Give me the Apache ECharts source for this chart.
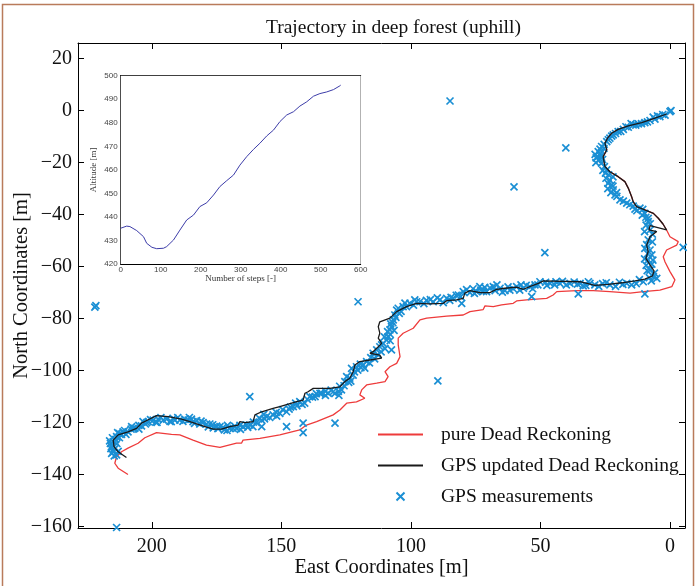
<!DOCTYPE html>
<html><head><meta charset="utf-8">
<script src="https://cdn.jsdelivr.net/npm/echarts@6/dist/echarts.min.js"></script>
<style>html,body{margin:0;padding:0;background:#fff}#c{width:696px;height:586px}</style>
</head><body><div id="c"></div>
<script>
// ---- data (East [m], North [m]) ----
const gpsUpdatedDR = [
[1.3,-1.3],[5.8,-2.9],[10.9,-4.6],[16.1,-5.9],[20.0,-7.2],[22.5,-8.7],[24.1,-10.6],[25.1,-12.5],[24.4,-15.1],[25.8,-17.7],
[25.1,-21.5],[23.2,-23.5],[20.0,-25.4],[17.4,-27.3],[16.1,-29.8],[14.8,-33.1],[14.2,-35.0],[12.9,-36.9],[9.7,-38.2],[6.4,-39.5],
[4.5,-41.4],[2.7,-43.6],[1.3,-45.9],[7.7,-44.2],[8.1,-45.9],[5.1,-46.5],[7.7,-48.5],[9.0,-51.7],[8.4,-54.2],[9.3,-56.8],
[7.7,-59.3],[6.1,-61.7],[6.8,-63.6],[9.7,-64.8],[13.5,-65.5],[18.6,-66.2],[23.8,-66.8],[29.0,-67.2],[34.7,-65.8],[48.9,-65.5],
[50.8,-66.4],[54.1,-67.7],[56.6,-68.7],[59.2,-67.9],[63.7,-68.3],[66.9,-68.7],[69.5,-70.0],[73.4,-70.0],[77.2,-69.2],[79.2,-70.2],
[79.8,-72.2],[82.4,-72.8],[86.2,-73.1],[87.5,-74.1],[92.7,-74.3],[97.8,-74.1],[101.7,-75.4],[105.5,-77.3],[108.1,-79.8],[112.0,-81.2],
[112.6,-83.1],[112.0,-85.6],[112.6,-87.5],[111.3,-89.5],[112.6,-90.8],[114.6,-92.7],[115.8,-93.3],[112.0,-94.0],[111.3,-95.2],[115.8,-95.9],
[119.7,-96.5],[121.6,-97.8],[122.3,-100.4],[123.6,-102.9],[125.5,-104.2],[127.4,-106.2],[131.3,-106.8],[137.7,-106.8],[139.7,-108.1],[140.9,-108.7],
[141.6,-111.3],[144.1,-111.9],[150.6,-113.8],[153.2,-114.5],[157.6,-115.8],[160.2,-117.0],[160.9,-119.6],[164.1,-120.0],[166.0,-119.6],[166.7,-120.9],
[169.9,-121.5],[173.1,-122.5],[176.3,-122.5],[179.5,-121.5],[182.7,-120.5],[185.3,-119.6],[188.5,-118.6],[193.7,-117.7],[198.2,-117.3],[200.8,-118.6],
[204.0,-120.2],[205.9,-122.2],[209.2,-123.5],[213.0,-124.7],[214.9,-126.7],[214.6,-129.2],[213.0,-131.2],[209.8,-133.4]
];
const pureDR = [
[1.3,-1.3],[5.8,-2.9],[10.9,-4.6],[16.1,-5.9],[20.0,-7.2],[22.5,-8.7],[24.1,-10.6],[25.1,-12.5],[24.4,-15.1],[25.8,-17.7],
[25.1,-21.5],[23.2,-23.5],[20.0,-25.4],[17.4,-27.3],[16.1,-29.8],[14.8,-33.1],[14.2,-35.0],[12.9,-36.9],[9.7,-38.2],[6.4,-39.5],
[4.5,-41.4],[2.7,-43.6],[1.3,-45.9],
[0.0,-48.5],[-3.2,-50.4],[-2.6,-51.7],[1.3,-53.6],[2.6,-56.2],[1.9,-58.2],[0.0,-61.9],[-1.9,-65.1],[-0.7,-67.7],[3.9,-69.0],
[10.3,-69.6],[15.4,-70.2],[23.2,-69.6],[29.6,-69.2],[36.0,-69.2],[43.7,-69.6],[45.1,-70.9],[47.6,-72.2],[51.5,-72.5],[55.3,-72.8],
[59.2,-73.2],[60.5,-74.1],[65.0,-74.7],[68.2,-75.4],[71.4,-75.1],[72.1,-76.5],[77.2,-77.3],[79.8,-78.6],[86.2,-79.0],[93.9,-79.8],
[96.5,-80.5],[99.1,-83.7],[103.0,-85.6],[104.9,-87.5],[104.9,-90.1],[104.2,-94.6],[105.5,-97.2],[108.1,-98.5],[110.0,-100.4],[108.8,-102.3],
[110.0,-104.2],[113.2,-104.8],[117.1,-105.5],[119.0,-107.4],[119.7,-109.3],[117.8,-110.6],[121.0,-112.0],[124.8,-112.5],[127.4,-115.1],[130.0,-117.0],
[136.4,-119.6],[140.3,-120.9],[142.9,-122.8],[150.6,-124.7],[158.3,-126.0],[164.8,-126.7],[165.4,-127.9],[167.3,-127.9],[173.7,-129.5],[178.9,-128.6],
[184.1,-126.7],[189.2,-124.7],[192.4,-124.5],[198.2,-123.8],[202.7,-125.8],[205.3,-127.9],[209.2,-129.8],[211.7,-131.2],[213.6,-133.1],[214.3,-135.6],
[213.0,-137.5],[209.2,-139.9]
];
const gpsMeasurements = [
[-0.4,0.0],[0.0,-0.4],[1.9,-1.7],[3.9,-2.3],[5.8,-3.3],[7.7,-3.8],[9.7,-4.6],[12.2,-5.1],[14.2,-5.5],[16.1,-6.4],
[18.0,-7.2],[20.0,-8.1],[21.9,-9.3],[23.2,-10.6],[24.4,-11.9],[26.4,-13.8],[27.7,-15.8],[27.9,-17.7],[27.4,-19.0],[26.4,-20.2],
[24.4,-22.8],[23.7,-24.7],[23.2,-26.7],[22.5,-28.6],[21.9,-30.5],[21.2,-32.4],[19.3,-34.3],[16.7,-35.6],[14.2,-36.7],[11.6,-37.5],
[9.7,-39.5],[8.4,-41.4],[8.4,-42.7],[7.7,-45.9],[8.4,-49.7],[7.7,-53.6],[8.4,-57.4],[7.7,-61.3],[6.4,-63.8],[10.3,-65.8],
[16.7,-66.4],[23.2,-67.0],[29.0,-67.0],[35.7,-66.7],[30.9,-66.4],[34.7,-66.4],[38.6,-66.4],[42.5,-66.4],[46.3,-66.4],[50.2,-65.8],
[52.1,-67.0],[54.1,-67.7],[56.6,-68.3],[59.2,-67.7],[61.8,-69.0],[63.7,-69.2],[65.6,-68.3],[68.2,-67.7],[70.8,-69.6],[73.4,-67.7],
[74.6,-69.6],[77.2,-70.0],[79.8,-69.6],[81.7,-70.9],[83.7,-72.2],[86.2,-72.2],[88.8,-72.8],[91.4,-73.5],[96.5,-73.5],[97.8,-73.5],
[100.4,-74.1],[101.7,-75.4],[103.0,-75.4],[104.9,-76.0],[105.5,-76.7],[106.2,-78.6],[106.8,-80.5],[107.5,-83.1],[108.1,-84.3],[108.8,-86.9],
[109.4,-88.2],[110.7,-89.5],[111.3,-90.1],[112.0,-90.8],[113.2,-92.0],[114.6,-93.3],[117.1,-96.5],[118.4,-97.8],[121.0,-98.5],[122.9,-99.1],
[122.3,-101.7],[123.6,-102.9],[124.8,-102.3],[125.5,-104.2],[126.8,-107.4],[129.3,-108.7],[130.0,-108.1],[131.9,-108.7],[134.5,-108.7],[135.1,-108.7],
[139.0,-110.0],[142.9,-111.9],[145.4,-113.8],[148.0,-115.8],[150.6,-116.4],[153.2,-117.0],[155.7,-117.7],[157.6,-119.0],[159.6,-120.0],[162.2,-120.9],
[163.4,-120.9],[164.8,-121.5],[167.3,-122.2],[168.6,-122.2],[169.9,-122.2],[172.5,-121.8],[173.7,-121.5],[175.0,-121.3],[177.6,-120.5],[178.9,-120.5],
[180.2,-120.0],[182.7,-119.2],[184.1,-119.6],[184.7,-118.6],[187.3,-118.6],[189.2,-119.0],[191.1,-119.0],[191.8,-118.3],[194.3,-118.6],[195.6,-119.0],
[197.6,-118.6],[199.5,-119.0],[201.4,-119.6],[203.4,-119.6],[204.0,-121.2],[206.6,-122.2],[207.2,-122.2],[209.2,-123.5],[211.1,-123.5],[211.7,-124.5],
[213.6,-125.4],[214.9,-127.3],[215.6,-129.2],[214.9,-130.5],[214.9,-131.2],[213.6,-132.4],
[2.8,-1.5],[6.5,-2.5],[11.0,-5.0],[17.0,-6.2],[19.0,-8.0],[22.5,-9.8],
[25.5,-14.5],[26.8,-16.5],[28.5,-18.2],[26.0,-18.8],[25.3,-21.5],[24.7,-26.0],[22.0,-25.5],[22.8,-31.5],[20.5,-33.0],[12.8,-38.5],
[10.5,-38.0],[9.2,-44.0],[6.8,-47.5],[9.0,-51.5],[7.0,-55.5],[9.2,-59.5],[7.0,-59.0],[8.0,-64.2],[13.0,-66.5],[19.5,-66.0],
[26.0,-66.5],[32.5,-67.2],[44.5,-67.0],[48.0,-66.0],[58.0,-69.0],[66.8,-67.0],[72.0,-69.5],[76.0,-68.5],[85.0,-73.0],[94.0,-73.0],
[99.0,-74.8],[104.5,-78.0],[107.0,-81.5],[108.0,-86.0],[110.0,-91.5],[115.5,-95.0],[119.5,-97.5],[120.5,-99.8],[124.0,-104.5],[128.0,-108.0],
[133.0,-109.5],[137.0,-110.0],[141.0,-112.5],[144.0,-113.5],[146.5,-114.0],[151.8,-117.5],[156.5,-118.5],[161.0,-121.5],[166.0,-121.0],[171.0,-123.0],
[176.3,-122.0],[181.5,-120.5],[186.0,-119.0],[193.0,-119.5],[198.5,-119.8],[202.5,-120.5],[205.0,-121.0],[208.0,-122.5],[210.0,-124.5],[212.5,-124.2],
[214.0,-126.5],[213.5,-128.0],[216.0,-128.0],[215.5,-131.8],[213.0,-131.0],
[4.8,-2.0],[8.7,-4.3],[13.2,-5.6],[15.0,-5.0],[21.0,-8.8],[23.8,-11.2],
[25.4,-13.0],[27.0,-14.8],[28.9,-16.8],[26.8,-17.5],[28.6,-20.0],[25.9,-23.0],[24.9,-24.0],[23.9,-28.0],[24.0,-30.0],[22.0,-29.0],
[20.6,-31.5],[18.0,-34.8],[15.5,-36.2],[13.5,-37.9],[10.7,-40.2],[9.3,-41.0],[7.6,-43.5],
[9.8,-46.5],[6.8,-50.5],[9.7,-53.0],[8.6,-55.0],[6.6,-57.5],[9.8,-57.0],[8.8,-61.5],[6.0,-62.5],[7.2,-65.5],
[11.8,-65.0],[14.8,-67.0],[18.2,-66.8],[21.0,-67.6],[24.6,-66.2],[27.5,-67.6],[31.5,-65.8],[33.5,-67.4],[37.0,-65.9],[40.0,-67.0],
[41.5,-65.7],[44.0,-65.8],[47.5,-67.2],
[51.0,-67.0],[53.0,-68.5],[55.5,-67.2],[57.5,-67.0],[60.5,-68.5],[62.5,-67.8],[64.7,-69.8],[67.5,-69.2],[69.5,-68.2],[71.5,-68.0],
[73.0,-69.0],[75.5,-70.3],[78.5,-68.8],[80.8,-71.5],[82.5,-71.0],[84.5,-71.8],[87.5,-73.8],[89.8,-72.0],[92.5,-72.7],[95.0,-74.2],
[98.5,-72.8],[102.3,-74.0],[103.8,-77.2],[105.8,-79.5],[107.8,-82.0],[106.5,-84.5],[109.0,-85.0],[108.0,-88.5],[110.2,-87.0],[111.5,-92.8],
[112.8,-93.8],[114.0,-95.5],[116.0,-97.0],[117.8,-99.0],[119.3,-98.8],[121.8,-100.5],[123.2,-104.0],[125.8,-105.8],[127.5,-106.0],[127.8,-109.5],
[130.8,-107.5],[133.0,-108.0],[136.5,-108.8],[138.0,-110.2],[140.0,-111.0],
[142.0,-113.0],[144.5,-112.5],[147.0,-114.8],[149.5,-115.0],[152.0,-116.0],[154.5,-118.0],[156.8,-116.8],[158.6,-118.2],[160.8,-119.8],[163.0,-121.8],
[165.8,-122.6],[168.0,-121.3],[170.8,-121.0],[172.0,-122.8],[174.5,-122.3],[176.5,-120.8],[178.2,-121.6],[181.0,-119.4],[183.5,-120.3],[185.5,-118.0],
[188.0,-119.5],[190.0,-118.0],[192.5,-119.6],[196.5,-118.0],[198.0,-119.9],[200.5,-118.8],[202.0,-120.0],[205.0,-122.5],[207.8,-121.5],[210.5,-123.0],
[212.5,-125.8],[213.2,-123.8],[215.2,-125.8],[215.8,-130.0],[214.0,-129.8],[214.5,-132.8],[216.3,-127.0],
[84.9,3.7],[40.2,-14.3],[60.2,-29.3],[48.3,-54.6],[-5.1,-52.6],[5.1,-64.5],[9.7,-70.5],[35.4,-70.5],[53.4,-71.5],[80.4,-74.1],
[120.4,-73.5],[107.5,-92.0],[89.6,-103.9],[162.2,-110.0],[148.0,-121.5],[141.6,-120.2],[141.6,-123.8],[129.3,-120.2],[157.6,-121.5],
[221.6,-75.0],[222.0,-75.6],[213.6,-160.3]
];
const steps =    [0,15,23,40,57,65,78,90,107,115,132,148,165,182,198,215,232,248,265,282,298,315,332,348,365,382,398,415,432,448,465,482,498,515,532,548,550];
const altitude = [435.2,436.1,435.9,434.2,431.6,428.8,427.1,426.5,426.7,427.4,430.2,434.4,438.7,440.8,444.4,446.0,449.3,452.9,455.4,457.8,462.0,465.6,468.7,471.3,474.4,476.9,480.5,483.3,484.7,487.1,488.9,491.3,492.4,493.1,494.1,495.7,496.0];
const eastTicks = [0,50,100,150,200];
const northTicks = [-160,-140,-120,-100,-80,-60,-40,-20,0,20];
const seriesNames = ['pure Dead Reckoning','GPS updated Dead Reckoning','GPS measurements'];

const SERIF = 'Liberation Serif';
const BLUE = '#1a8fd4';
const minus = v => String(v).replace('-', '\u2212');
const chart = echarts.init(document.getElementById('c'), null, {renderer:'canvas'});
const mainX = {type:'value', inverse:true, min:-5.8, max:228.5, splitLine:{show:false}, axisLine:{onZero:false, lineStyle:{color:'#000',width:1}}};
const mainY = {type:'value', min:-160.5, max:26, splitLine:{show:false}, axisLine:{onZero:false, lineStyle:{color:'#000',width:1}}};
const tickMain = (vals)=>({show:true, inside:true, length:6, customValues:vals, lineStyle:{color:'#000'}});
const insetX = {type:'value', min:0, max:600, interval:100, splitLine:{show:false}, axisLine:{onZero:false,lineStyle:{color:'#000',width:1}}};
const insetY = {type:'value', min:420, max:500, interval:10, splitLine:{show:false}, axisLine:{onZero:false,lineStyle:{color:'#000',width:1}}};
const insetLbl = {fontFamily:'Liberation Sans', fontSize:8, color:'#444'};
const xMark = 'path://M0,0L10,10M10,0L0,10';

chart.setOption({
  animation:false,
  backgroundColor:'#fff',
  title:{text:'Trajectory in deep forest (uphill)', left:261, top:13, textStyle:{fontFamily:SERIF, fontSize:19.5, fontWeight:'normal', color:'#111'}},
  graphic:[{type:'rect', shape:{x:2.5,y:4.5,width:691,height:620}, style:{fill:'none', stroke:'#b97b5b', lineWidth:1.5}, silent:true, z:-1}],
  grid:[
    {left:78, right:11, top:43, bottom:58, show:false, outerBoundsMode:'none', containLabel:false},
    {left:120.7, right:335.3, top:75.7, bottom:322, show:true, backgroundColor:'#fff', borderWidth:0, z:5, outerBoundsMode:'none', containLabel:false}
  ],
  legend:{
    data:[{name:seriesNames[0], itemStyle:{opacity:0}},{name:seriesNames[1], itemStyle:{opacity:0}},{name:seriesNames[2]}],
    orient:'vertical', left:372, top:419, itemWidth:45, itemHeight:8, itemGap:10,
    textStyle:{fontFamily:SERIF, fontSize:19.5, color:'#111', padding:[0,0,0,13], lineHeight:21}
  },
  xAxis:[
    Object.assign({}, mainX, {gridIndex:0, position:'bottom', name:'East Coordinates [m]', nameLocation:'middle', nameGap:29, nameMoveOverlap:false,
      nameTextStyle:{fontFamily:SERIF, fontSize:20.5, color:'#111'},
      axisTick:tickMain(eastTicks), axisLabel:{customValues:eastTicks, fontFamily:SERIF, fontSize:20, color:'#111', margin:9}}),
    Object.assign({}, mainX, {gridIndex:0, position:'top', axisTick:tickMain(eastTicks), axisLabel:{show:false}}),
    Object.assign({}, insetX, {gridIndex:1, position:'bottom', name:'Number of steps [-]', nameLocation:'middle', nameGap:10, nameMoveOverlap:false,
      nameTextStyle:{fontFamily:SERIF, fontSize:9, color:'#333'},
      axisTick:{inside:true,length:3,lineStyle:{color:'#000'}}, axisLabel:Object.assign({margin:2}, insetLbl)}),
    Object.assign({}, insetX, {gridIndex:1, position:'top', axisTick:{inside:true,length:3,lineStyle:{color:'#000'}}, axisLabel:{show:false}})
  ],
  yAxis:[
    Object.assign({}, mainY, {gridIndex:0, position:'left', name:'North Coordinates [m]', nameLocation:'middle', nameGap:46, nameMoveOverlap:false,
      nameTextStyle:{fontFamily:SERIF, fontSize:20.5, color:'#111'},
      axisTick:tickMain(northTicks), axisLabel:{customValues:northTicks, formatter:minus, fontFamily:SERIF, fontSize:20, color:'#111', margin:6}}),
    Object.assign({}, mainY, {gridIndex:0, position:'right', axisTick:tickMain(northTicks), axisLabel:{show:false}}),
    Object.assign({}, insetY, {gridIndex:1, position:'left', name:'Altitude [m]', nameLocation:'middle', nameGap:23, nameMoveOverlap:false,
      nameTextStyle:{fontFamily:SERIF, fontSize:9, color:'#333'},
      axisTick:{inside:true,length:3,lineStyle:{color:'#000'}}, axisLabel:Object.assign({margin:3}, insetLbl)}),
    Object.assign({}, insetY, {gridIndex:1, position:'right', axisTick:{inside:true,length:3,lineStyle:{color:'#000'}}, axisLabel:{show:false}})
  ],
  series:[
    {name:seriesNames[0], type:'line', xAxisIndex:0, yAxisIndex:0, data:pureDR, symbol:'none', smooth:false, z:2,
      lineStyle:{color:'#ee3b3b', width:1.3}, itemStyle:{color:'#ee3b3b'}},
    {name:seriesNames[2], type:'scatter', xAxisIndex:0, yAxisIndex:0, data:gpsMeasurements, symbol:xMark, symbolSize:7, z:3,
      itemStyle:{color:'transparent', borderColor:BLUE, borderWidth:1.7, opacity:1}},
    {name:seriesNames[1], type:'line', xAxisIndex:0, yAxisIndex:0, data:gpsUpdatedDR, symbol:'none', z:4,
      lineStyle:{color:'#1a1a1a', width:1.3}, itemStyle:{color:'#1a1a1a'}},
    {name:'Altitude', type:'line', xAxisIndex:2, yAxisIndex:2, data:steps.map((s,i)=>[s,altitude[i]]), symbol:'none', z:6,
      lineStyle:{color:'#3c3ca8', width:1}}
  ]
});
</script></body></html>
